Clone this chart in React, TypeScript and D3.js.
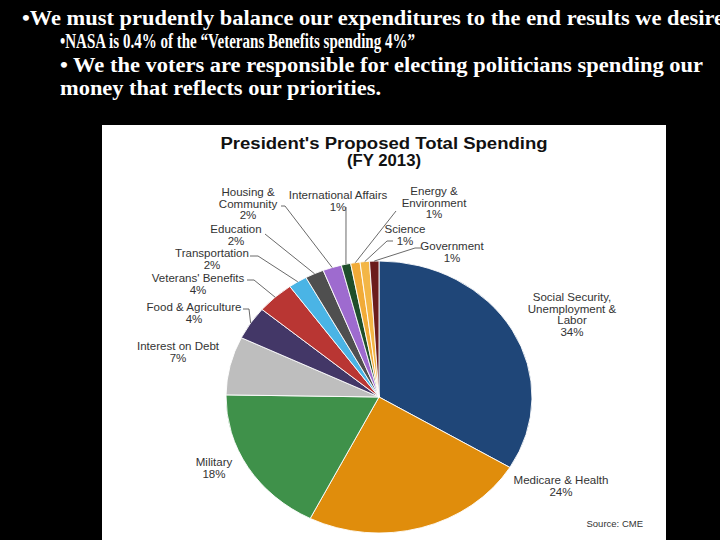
import React from "react";
import * as d3 from "d3";

// ---- data ----
const categories = [
  "Social Security, Unemployment & Labor",
  "Medicare & Health",
  "Military",
  "Interest on Debt",
  "Food & Agriculture",
  "Veterans' Benefits",
  "Transportation",
  "Education",
  "Housing & Community",
  "International Affairs",
  "Energy & Environment",
  "Science",
  "Government",
];
const values = [34, 24, 18, 7, 4, 4, 2, 2, 2, 1, 1, 1, 1];
const labelLines = [
  ["Social Security,", "Unemployment  &", "Labor"],
  ["Medicare  & Health"],
  ["Military"],
  ["Interest  on Debt"],
  ["Food & Agriculture"],
  ["Veterans' Benefits"],
  ["Transportation"],
  ["Education"],
  ["Housing &", "Community"],
  ["International  Affairs"],
  ["Energy &", "Environment"],
  ["Science"],
  ["Government"],
];
const colors = [
  "#1F4678", "#E08D0C", "#3F914A", "#BEBEBE", "#433767", "#B93633", "#4AB4E5",
  "#4F4F4F", "#9E6BCF", "#1F4E2A", "#F1AB38", "#F3B646", "#6B1C1C",
];
const titleLines = ["President's Proposed Total Spending", "(FY 2013)"];
const slideLines = [
  "\u2022We must prudently balance our expenditures to the end results we desire",
  "\u2022NASA is 0.4% of the \u201CVeterans Benefits spending 4%\u201D",
  "\u2022 We the voters are responsible for electing politicians spending our",
  "money that reflects our priorities.",
];
const sourceText = "Source: CME";

// ---- layout ----
const W = 720, H = 540;
const cx = 379, cy = 397, rx = 153, ry = 136;
const labelPos: [number, number][] = [
  [572, 297], [561, 480], [214, 462], [178, 346], [194, 307], [198, 278],
  [212, 253], [236, 229], [248, 192], [338, 195], [434, 191], [405, 229], [452, 246],
];
const leaderStarts: ([number, number][] | null)[] = [
  null, null, null, null,
  [[243, 309], [249, 309]],
  [[247, 280], [254, 280]],
  [[250, 256], [258, 256]],
  [[265, 234]],
  [[281, 206], [285, 206]],
  [[346, 207]],
  [[396, 211]],
  [[393, 241], [387, 241]],
  [[421, 248], [415, 248]],
];
const slideX = [22, 60, 60, 60];
const slideY = [25, 48, 72, 95];
const slideLen = [702, 355, 643, 321];

export default function App() {
  const pie = d3.pie<number>().sort(null).startAngle(0).endAngle(2 * Math.PI);
  const arcs = pie(values);
  const arc = d3.arc<d3.PieArcDatum<number>>().innerRadius(0).outerRadius(ry);
  const sx = rx / ry;
  const lh = 11.6;

  return (
    <svg width={W} height={H} style={{ position: "fixed", left: 0, top: 0 }}>
      <rect x={0} y={0} width={W} height={H} fill="#000" />
      {slideLines.map((t, i) => (
        <text key={i} x={slideX[i]} y={slideY[i]} fill="#fff" fontFamily="Liberation Serif, serif"
          fontWeight="bold" fontSize={20} textLength={slideLen[i]} lengthAdjust="spacingAndGlyphs">
          {t}
        </text>
      ))}
      <rect x={102} y={125} width={564} height={415} fill="#fff" />
      <text x={384} y={149} textAnchor="middle" fontFamily="Liberation Sans, Arial, sans-serif"
        fontWeight="bold" fontSize={16} fill="#111" textLength={327} lengthAdjust="spacingAndGlyphs">
        {titleLines[0]}
      </text>
      <text x={384} y={165.5} textAnchor="middle" fontFamily="Liberation Sans, Arial, sans-serif"
        fontWeight="bold" fontSize={16} fill="#111" textLength={74} lengthAdjust="spacingAndGlyphs">
        {titleLines[1]}
      </text>
      <g transform={`translate(${cx},${cy}) scale(${sx},1)`}>
        {arcs.map((a, i) => (
          <path key={categories[i]} d={arc(a) || ""} fill={colors[i]} stroke="#fff"
            strokeWidth={0.9} vectorEffect="non-scaling-stroke" />
        ))}
      </g>
      {arcs.map((a, i) => {
        const st = leaderStarts[i];
        if (!st) return null;
        const m = (a.startAngle + a.endAngle) / 2;
        const ex = cx + rx * Math.sin(m);
        const ey = cy - ry * Math.cos(m);
        const pts = [...st, [ex, ey]];
        return (
          <polyline key={"l" + i} points={pts.map((p) => p.join(",")).join(" ")}
            fill="none" stroke="#444" strokeWidth={0.8} />
        );
      })}
      {arcs.map((a, i) => {
        const [lx, ly] = labelPos[i];
        const lines = [...labelLines[i], `${values[i]}%`];
        return (
          <g key={"t" + i} transform={`translate(${lx},0) scale(1.1,1)`}>
            <text textAnchor="middle" fontFamily="Liberation Sans, Arial, sans-serif"
              fontSize={10.5} fill="#333">
              {lines.map((s, j) => (
                <tspan key={j} x={0} y={ly + j * lh + 4}>{s}</tspan>
              ))}
            </text>
          </g>
        );
      })}
      <text x={643} y={527} textAnchor="end" fontFamily="Liberation Sans, Arial, sans-serif"
        fontSize={9.5} fill="#333">
        {sourceText}
      </text>
    </svg>
  );
}
